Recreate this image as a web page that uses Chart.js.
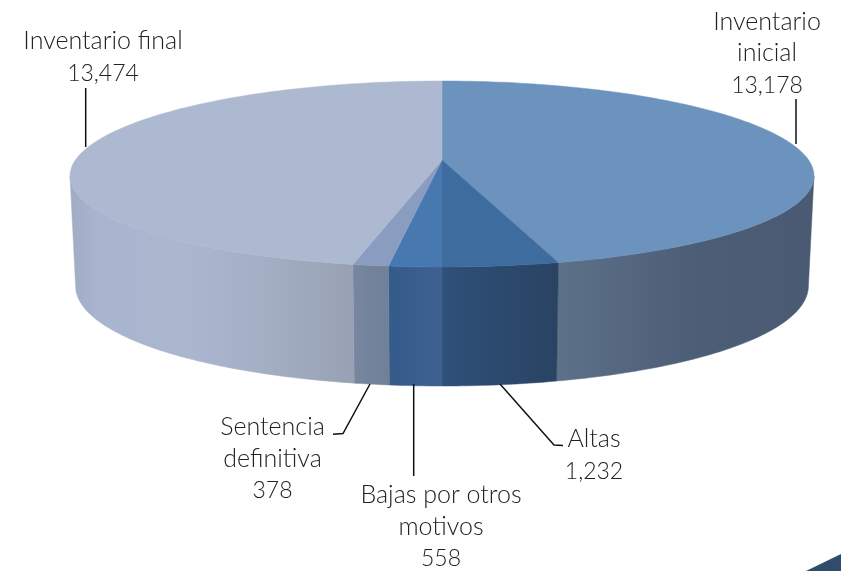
<!DOCTYPE html>
<html>
<head>
<meta charset="utf-8">
<style>
  html, body { margin: 0; padding: 0; background: #fff; }
  canvas { display: block; }
</style>
</head>
<body>
<canvas id="pieChart" width="841" height="571"></canvas>
<script src="https://cdn.jsdelivr.net/npm/chart.js@4"></script>
<script>
const categoryLines = [
    ['Inventario', 'inicial'],
    ['Altas'],
    ['Bajas por otros', 'motivos'],
    ['Sentencia', 'definitiva'],
    ['Inventario final']
];
const categories = categoryLines.map(l => l.join(' '));
const values = [13178, 1232, 558, 378, 13474];
const topColors = ['#6c93bd', '#3f6c9f', '#4878b0', '#8a9dc0', '#adb9d1'];

// side wall shading per slice: [offset, colour]
const wallStops = [
    [[0, '#5d7189'], [0.55, '#4c5d76'], [1, '#4a5a72']],
    [[0, '#2f5078'], [1, '#294363']],
    [[0, '#355b8b'], [1, '#3e6192']],
    [[0, '#78869f'], [1, '#6f8099']],
    [[0, '#a0acc4'], [0.1, '#a9b5ce'], [0.4, '#abb7cf'], [0.65, '#a5b0c6'], [1, '#98a1b3']]
];

// text anchors and leader lines, one per slice
const labelLayout = [
    { x: 767, y: 29.5, leader: [[796, 99], [796, 144]] },
    { x: 594, y: 447, leader: [[500, 384], [554, 445], [563, 445.5]] },
    { x: 441, y: 503, leader: [[413.7, 384], [413.7, 476]] },
    { x: 272.5, y: 435, leader: [[370, 384], [343, 433.5], [333, 434.3]] },
    { x: 103, y: 49, leader: [[85.7, 88], [85.7, 147]] }
];
const lineHeight = 31.5;

// perspective of the disc, relative to the radius Chart.js gives the pie
const persp = { a: 2.291, b: 0.568, kx: 0.17, ky: 0.1505 };
const wallShrink = 0.985;
const wallScaleY = 1.098;
const wallOffsetY = 92.85;

function rimPoint(arc, angle) {
    const u = Math.cos(angle), v = Math.sin(angle);
    return {
        x: arc.x + arc.outerRadius * persp.a * u / (1 - persp.kx * v),
        y: arc.y + arc.outerRadius * persp.b * v / (1 - persp.ky * v)
    };
}

function wallPoint(arc, angle) {
    const p = rimPoint(arc, angle);
    return { x: arc.x + (p.x - arc.x) * wallShrink, y: p.y * wallScaleY + wallOffsetY };
}

function sampleAngles(from, to) {
    const steps = Math.max(2, Math.ceil((to - from) * 60));
    const out = [];
    for (let i = 0; i <= steps; i++) out.push(from + (to - from) * i / steps);
    return out;
}

const pie3d = {
    id: 'pie3d',
    beforeDraw(chart) {
        const ctx = chart.ctx;
        ctx.save();
        ctx.fillStyle = '#fefefe';
        ctx.fillRect(0, 494, 841, 77);
        ctx.fillStyle = '#2f4d6b';
        ctx.beginPath();
        ctx.moveTo(806, 571);
        ctx.lineTo(841, 554);
        ctx.lineTo(841, 571);
        ctx.closePath();
        ctx.fill();
        ctx.restore();
    },
    beforeDatasetsDraw(chart) {
        const ctx = chart.ctx;
        const arcs = chart.getDatasetMeta(0).data;
        // the wall only shows between the two widest points of the rim
        const limit = Math.asin(persp.kx);
        const wallFrom = limit, wallTo = Math.PI - limit;

        ctx.save();
        arcs.forEach((arc, i) => {
            const from = Math.max(arc.startAngle, wallFrom);
            const to = Math.min(arc.endAngle, wallTo);
            if (to <= from) return;
            const angles = sampleAngles(from, to);
            const top = angles.map(a => rimPoint(arc, a));
            const bottom = angles.map(a => wallPoint(arc, a)).reverse();
            const xs = top.concat(bottom).map(p => p.x);
            const grad = ctx.createLinearGradient(Math.min(...xs), 0, Math.max(...xs), 0);
            wallStops[i].forEach(s => grad.addColorStop(s[0], s[1]));
            ctx.fillStyle = grad;
            ctx.strokeStyle = grad;
            ctx.lineWidth = 0.5;
            ctx.beginPath();
            top.concat(bottom).forEach((p, n) => n ? ctx.lineTo(p.x, p.y) : ctx.moveTo(p.x, p.y));
            ctx.closePath();
            ctx.fill();
            ctx.stroke();
        });
        arcs.forEach(arc => {
            ctx.fillStyle = arc.options.backgroundColor;
            ctx.strokeStyle = arc.options.backgroundColor;
            ctx.lineWidth = 0.5;
            ctx.beginPath();
            ctx.moveTo(arc.x, arc.y);
            sampleAngles(arc.startAngle, arc.endAngle).forEach(a => {
                const p = rimPoint(arc, a);
                ctx.lineTo(p.x, p.y);
            });
            ctx.closePath();
            ctx.fill();
            ctx.stroke();
        });
        ctx.restore();
        return false; // slices are painted above, skip the flat pie
    },
    afterDraw(chart) {
        const ctx = chart.ctx;
        ctx.save();
        ctx.strokeStyle = '#111';
        ctx.lineWidth = 1.5;
        labelLayout.forEach(l => {
            ctx.beginPath();
            l.leader.forEach((p, n) => n ? ctx.lineTo(p[0], p[1]) : ctx.moveTo(p[0], p[1]));
            ctx.stroke();
        });
        ctx.fillStyle = '#222';
        ctx.textAlign = 'center';
        ctx.textBaseline = 'alphabetic';
        labelLayout.forEach((l, i) => {
            const lines = categoryLines[i];
            ctx.font = '300 25px Lato';
            lines.forEach((t, n) => ctx.fillText(t, l.x, l.y + n * lineHeight));
            ctx.font = '300 23px Lato';
            ctx.fillText(values[i].toLocaleString('en-US'), l.x, l.y + lines.length * lineHeight);
        });
        ctx.restore();
    }
};

new Chart(document.getElementById('pieChart').getContext('2d'), {
    type: 'pie',
    data: {
        labels: categories,
        datasets: [{ data: values, backgroundColor: topColors, borderWidth: 0 }]
    },
    options: {
        responsive: false,
        animation: false,
        layout: { padding: { left: 43, top: 0, bottom: 251 } },
        plugins: { legend: { display: false }, tooltip: { enabled: false } }
    },
    plugins: [pie3d]
});
</script>
</body>
</html>
